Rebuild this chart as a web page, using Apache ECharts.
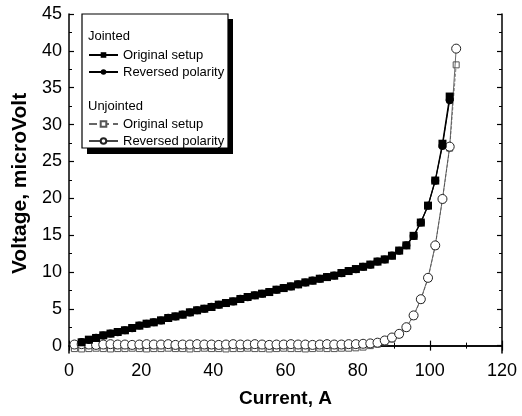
<!DOCTYPE html>
<html>
<head>
<meta charset="utf-8">
<script src="https://cdn.jsdelivr.net/npm/echarts@6/dist/echarts.min.js"></script>
<style>html,body{margin:0;padding:0;background:#fff;}#c{width:522px;height:416px;}</style>
</head>
<body>
<div id="c"></div>
<script>
// ---- data ----
const xTicks = [0, 20, 40, 60, 80, 100, 120];
const yTickLabels = [0, 5, 10, 15, 20, 25, 30, 35, 40, 45];
const yMinorTicks = [2.5, 7.5, 12.5, 17.5, 22.5, 27.5, 32.5, 37.5, 42.5];

const jointedCurrent = [3.5, 5.5, 7.5, 9.5, 11.5, 13.5, 15.5, 17.5, 19.5, 21.5, 23.5, 25.5, 27.5, 29.5, 31.5, 33.5, 35.5, 37.5, 39.5, 41.5, 43.5, 45.5, 47.5, 49.5, 51.5, 53.5, 55.5, 57.5, 59.5, 61.5, 63.5, 65.5, 67.5, 69.5, 71.5, 73.5, 75.5, 77.5, 79.5, 81.5, 83.5, 85.5, 87.5, 89.5, 91.5, 93.5, 95.5, 97.5, 99.5, 101.5, 103.5, 105.5];
const jointedOriginalV = [0.45, 0.81, 1.04, 1.40, 1.63, 1.85, 2.08, 2.39, 2.71, 2.98, 3.16, 3.43, 3.75, 3.97, 4.20, 4.52, 4.79, 5.01, 5.24, 5.56, 5.78, 6.01, 6.33, 6.60, 6.82, 7.05, 7.27, 7.59, 7.81, 8.04, 8.31, 8.58, 8.81, 9.08, 9.30, 9.49, 9.85, 10.12, 10.39, 10.70, 11.00, 11.40, 11.70, 12.20, 12.90, 13.60, 14.90, 16.70, 19.00, 22.40, 27.40, 33.80];
const jointedReversedV = [0.48, 0.78, 1.06, 1.38, 1.65, 1.83, 2.10, 2.37, 2.73, 2.96, 3.18, 3.41, 3.77, 3.95, 4.22, 4.50, 4.81, 4.99, 5.26, 5.54, 5.80, 5.99, 6.35, 6.58, 6.84, 7.03, 7.29, 7.57, 7.83, 8.02, 8.33, 8.56, 8.83, 9.06, 9.32, 9.51, 9.83, 10.14, 10.37, 10.72, 10.98, 11.42, 11.68, 12.22, 12.88, 13.62, 14.88, 16.72, 18.98, 22.38, 27.10, 33.30];

const unjointedCurrent = [1.5, 3.5, 5.5, 7.5, 9.5, 11.5, 13.5, 15.5, 17.5, 19.5, 21.5, 23.5, 25.5, 27.5, 29.5, 31.5, 33.5, 35.5, 37.5, 39.5, 41.5, 43.5, 45.5, 47.5, 49.5, 51.5, 53.5, 55.5, 57.5, 59.5, 61.5, 63.5, 65.5, 67.5, 69.5, 71.5, 73.5, 75.5, 77.5, 79.5, 81.5, 83.5, 85.5, 87.5, 89.5, 91.5, 93.5, 95.5, 97.5, 99.5, 101.5, 103.5, 105.5, 107.3];
const unjointedOriginalV = [-0.40, -0.45, -0.40, -0.35, -0.40, -0.45, -0.40, -0.40, -0.35, -0.40, -0.45, -0.40, -0.40, -0.35, -0.40, -0.40, -0.45, -0.40, -0.35, -0.40, -0.40, -0.45, -0.40, -0.40, -0.35, -0.40, -0.40, -0.45, -0.40, -0.35, -0.40, -0.40, -0.45, -0.40, -0.35, -0.40, -0.40, -0.35, -0.35, -0.30, -0.20, 0.00, 0.20, 0.50, 0.90, 1.50, 2.40, 4.00, 6.20, 9.10, 13.50, 19.80, 26.80, 38.10];
const unjointedReversedV = [0.15, 0.20, 0.15, 0.10, 0.15, 0.20, 0.15, 0.15, 0.10, 0.15, 0.20, 0.15, 0.15, 0.20, 0.10, 0.15, 0.15, 0.20, 0.15, 0.15, 0.10, 0.15, 0.20, 0.15, 0.15, 0.20, 0.15, 0.10, 0.15, 0.15, 0.20, 0.15, 0.15, 0.10, 0.15, 0.20, 0.15, 0.15, 0.20, 0.20, 0.25, 0.30, 0.40, 0.70, 1.10, 1.60, 2.50, 4.10, 6.30, 9.20, 13.60, 19.90, 27.00, 40.30];

const seriesNames = ['Original setup', 'Reversed polarity', 'Original setup ', 'Reversed polarity '];

function pairs(xs, ys) { return xs.map((x, i) => [x, ys[i]]); }

const FONT = "'Liberation Sans', Arial, sans-serif";
const chart = echarts.init(document.getElementById('c'), null, {renderer: 'canvas'});

const baseX = {
  type: 'value', min: 0, max: 120, interval: 20,
  axisLine: {show: true, lineStyle: {color: '#000', width: 1.5}},
  axisTick: {show: true, inside: true, length: 5, lineStyle: {color: '#000', width: 1.2}},
  minorTick: {show: true, splitNumber: 2, length: 3, lineStyle: {color: '#000', width: 1}},
  splitLine: {show: false}, minorSplitLine: {show: false}
};
const baseY = {
  type: 'value', min: -1, max: 45,
  axisLine: {show: true, lineStyle: {color: '#000', width: 1.5}},
  splitLine: {show: false}
};

chart.setOption({
  animation: false,
  backgroundColor: '#fff',
  grid: {left: 69, right: 20, top: 14, bottom: 63, containLabel: false},
  xAxis: [
    Object.assign({}, baseX, {
      position: 'bottom',
      name: 'Current, A', nameLocation: 'middle', nameGap: 36,
      nameTextStyle: {fontFamily: FONT, fontSize: 19, fontWeight: 'bold', color: '#000'},
      axisLabel: {show: true, margin: 9, fontFamily: FONT, fontSize: 18, color: '#000'}
    }),
    Object.assign({}, baseX, {position: 'top', axisLabel: {show: false}})
  ],
  yAxis: [
    Object.assign({}, baseY, {
      position: 'left',
      name: 'Voltage, microVolt', nameLocation: 'middle', nameGap: 34,
      nameTextStyle: {fontFamily: FONT, fontSize: 21, fontWeight: 'bold', color: '#000'},
      axisLabel: {show: true, customValues: yTickLabels, margin: 7, fontFamily: FONT, fontSize: 18, color: '#000'},
      axisTick: {show: true, inside: true, length: 5, customValues: yTickLabels, lineStyle: {color: '#000', width: 1.2}}
    }),
    Object.assign({}, baseY, {
      position: 'left',
      axisLine: {show: false},
      axisLabel: {show: false},
      axisTick: {show: true, inside: true, length: 3, customValues: yMinorTicks, lineStyle: {color: '#000', width: 1}}
    }),
    Object.assign({}, baseY, {
      position: 'right',
      axisLabel: {show: false},
      axisTick: {show: true, inside: true, length: 5, customValues: yTickLabels, lineStyle: {color: '#000', width: 1.2}}
    }),
    Object.assign({}, baseY, {
      position: 'right',
      axisLine: {show: false},
      axisLabel: {show: false},
      axisTick: {show: true, inside: true, length: 3, customValues: yMinorTicks, lineStyle: {color: '#000', width: 1}}
    })
  ],
  legend: [
    {
      data: [seriesNames[0], seriesNames[1]],
      orient: 'vertical', left: 88, top: 48, padding: 0, itemGap: 3,
      itemWidth: 29, itemHeight: 7, z: 20,
      textStyle: {fontFamily: FONT, fontSize: 13, color: '#000', lineHeight: 14}
    },
    {
      data: [seriesNames[2], seriesNames[3]],
      orient: 'vertical', left: 88, top: 117, padding: 0, itemGap: 3,
      itemWidth: 29, itemHeight: 7, z: 20,
      textStyle: {fontFamily: FONT, fontSize: 13, color: '#000', lineHeight: 14}
    }
  ],
  graphic: [
    {type: 'rect', z: 10, shape: {x: 87, y: 19, width: 146, height: 135}, style: {fill: '#000'}},
    {type: 'rect', z: 11, shape: {x: 82, y: 14, width: 146, height: 134}, style: {fill: '#fff', stroke: '#000', lineWidth: 1.2}},
    {type: 'text', z: 12, left: 88, top: 30, style: {text: 'Jointed', font: '13px ' + FONT, fill: '#000'}},
    {type: 'text', z: 12, left: 88, top: 100, style: {text: 'Unjointed', font: '13px ' + FONT, fill: '#000'}}
  ],
  series: [
    {
      name: seriesNames[2], type: 'line', data: pairs(unjointedCurrent, unjointedOriginalV),
      symbol: 'rect', symbolSize: 6,
      itemStyle: {color: '#fff', borderColor: '#555', borderWidth: 1},
      lineStyle: {color: '#666', width: 0.8, type: 'dashed'}, z: 2
    },
    {
      name: seriesNames[3], type: 'line', data: pairs(unjointedCurrent, unjointedReversedV),
      symbol: 'circle', symbolSize: 9,
      itemStyle: {color: '#fff', borderColor: '#222', borderWidth: 1},
      lineStyle: {color: '#444', width: 0.8}, z: 3
    },
    {
      name: seriesNames[0], type: 'line', data: pairs(jointedCurrent, jointedOriginalV),
      symbol: 'rect', symbolSize: 8,
      itemStyle: {color: '#000', borderColor: '#000', borderWidth: 0},
      lineStyle: {color: '#000', width: 1.3}, z: 4
    },
    {
      name: seriesNames[1], type: 'line', data: pairs(jointedCurrent, jointedReversedV),
      symbol: 'circle', symbolSize: 8,
      itemStyle: {color: '#000', borderColor: '#000', borderWidth: 0},
      lineStyle: {color: '#000', width: 1.1}, z: 5
    }
  ]
});
</script>
</body>
</html>
